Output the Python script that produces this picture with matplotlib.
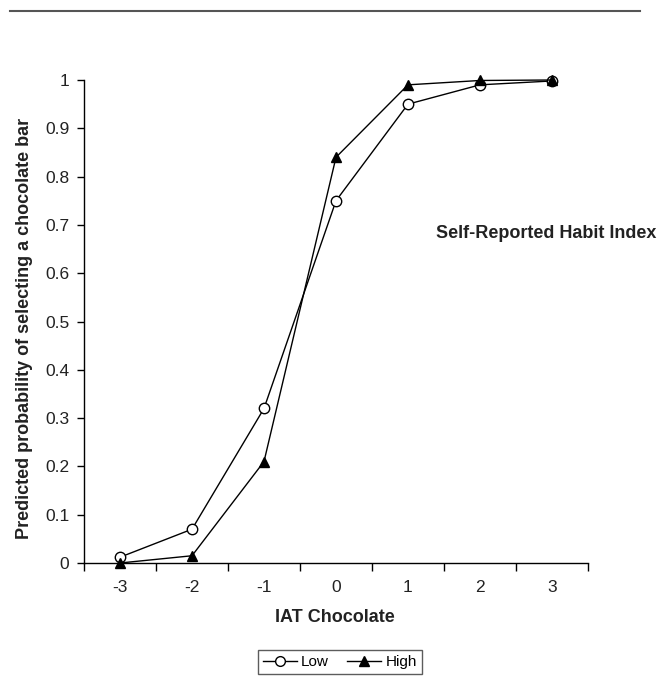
import matplotlib
matplotlib.use("Agg")
import matplotlib.pyplot as plt
from matplotlib.lines import Line2D

plt.rcParams['font.family'] = ['Liberation Sans', 'DejaVu Sans']

# data
iat = [-3, -2, -1, 0, 1, 2, 3]
low = [0.012, 0.07, 0.32, 0.75, 0.95, 0.99, 0.998]
high = [0.0, 0.015, 0.21, 0.84, 0.99, 0.999, 1.0]
yticks = [0, 0.1, 0.2, 0.3, 0.4, 0.5, 0.6, 0.7, 0.8, 0.9, 1]

W, H = 667, 677
L, R, T, B = 84, 588, 80, 563
fig = plt.figure(figsize=(W / 100, H / 100), dpi=100)
ax = fig.add_axes([L / W, 1 - B / H, (R - L) / W, (B - T) / H])

ax.plot(iat, low, color='black', lw=1, marker='o', ms=7.5, mfc='white', mec='black', mew=1, clip_on=False, zorder=3)
ax.plot(iat, high, color='black', lw=1, marker='^', ms=7.5, mfc='black', mec='black', clip_on=False, zorder=3)

ax.set_xlim(-3.5, 3.5)
ax.set_ylim(0, 1)
# category axis: ticks between the categories, labels in the middle
ax.set_xticks([x - 0.5 for x in iat] + [3.5])
ax.set_xticklabels([])
ax.set_xticks(iat, minor=True)
ax.set_xticklabels([str(x) for x in iat], minor=True, fontsize=12.5, color='#222222')
ax.tick_params(axis='x', which='minor', length=0, pad=12.5)
ax.tick_params(axis='x', which='major', length=5.5, width=1, direction='out')
ax.set_yticks(yticks)
ax.set_yticklabels([f'{t:g}' for t in yticks], fontsize=12.5, color='#222222')
ax.tick_params(axis='y', length=5, width=1, direction='out', pad=5.5)

for s in ['top', 'right']:
    ax.spines[s].set_visible(False)
for s in ['left', 'bottom']:
    ax.spines[s].set_linewidth(1)

ax.set_xlabel('IAT Chocolate', fontsize=13, fontweight='bold', color='#222222', va='center')
ax.xaxis.set_label_coords((335 - L) / (R - L), (B - 618) / (B - T))
ax.set_ylabel('Predicted probability of selecting a chocolate bar', fontsize=13, fontweight='bold',
              color='#222222', va='center')
ax.yaxis.set_label_coords((25 - L) / (R - L), (B - 328) / (B - T))

fig.text(546 / W, 1 - 234 / H, 'Self-Reported Habit Index', fontsize=13, fontweight='bold',
         color='#222222', ha='center', va='center')

# rule across the top of the page
fig.add_artist(Line2D([10 / W, 640 / W], [1 - 11 / H, 1 - 11 / H], color='#555555', lw=1.5))

handles = [Line2D([], [], color='black', lw=1, marker='o', ms=7, mfc='white', mec='black'),
           Line2D([], [], color='black', lw=1, marker='^', ms=7, mfc='black', mec='black')]
fig.legend(handles, ['Low', 'High'], loc='center', bbox_to_anchor=(340 / W, 1 - 662 / H),
           ncol=2, frameon=True, fancybox=False, edgecolor='#333333', fontsize=11,
           handlelength=2.2, handletextpad=0.3, columnspacing=1.2, borderpad=0.35)

fig.savefig('out.png', dpi=100)
